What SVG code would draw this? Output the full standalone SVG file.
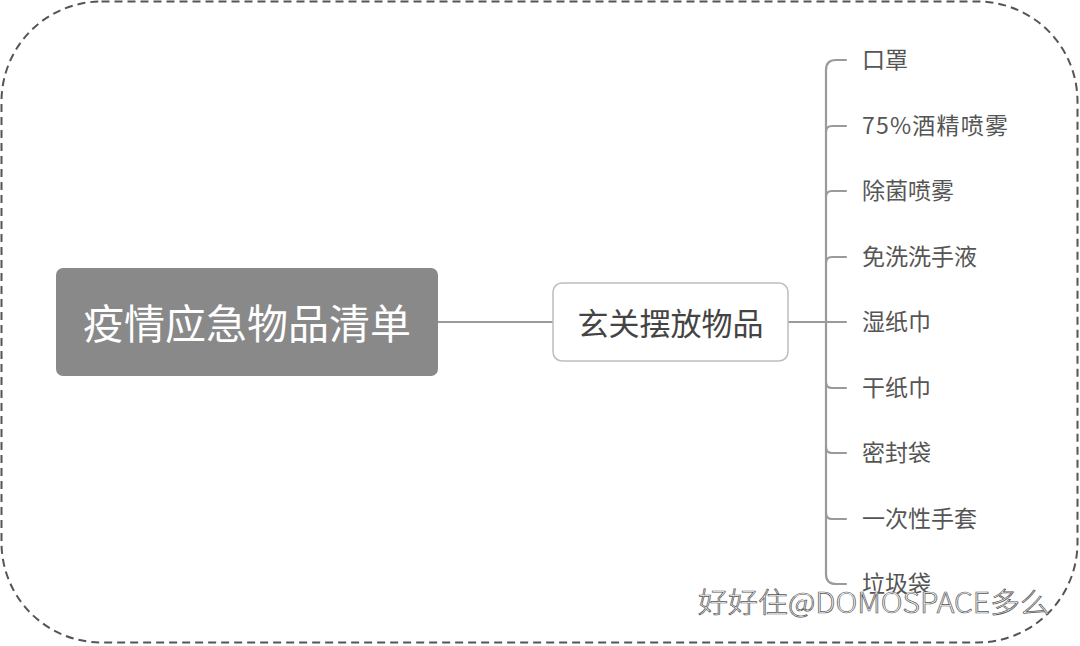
<svg xmlns="http://www.w3.org/2000/svg" width="1080" height="646" viewBox="0 0 1080 646">
<style>
.conn{fill:none;stroke:#9a9a9a;stroke-width:2.2;stroke-linecap:round}
.item{font-family:"Noto Sans CJK SC","Liberation Sans",sans-serif;font-size:23px;fill:#555}
.cjk{font-family:"Noto Sans CJK SC","Liberation Sans",sans-serif}
</style>
<rect width="1080" height="646" fill="#ffffff"/>
<rect x="1.5" y="1.5" width="1076" height="641" rx="100" ry="100" fill="none" stroke="#555" stroke-width="2" stroke-dasharray="8,5"/>
<g id="connectors">
<line class="conn" x1="438" y1="322" x2="553" y2="322"/>
<line class="conn" x1="788" y1="322" x2="846" y2="322"/>
<path class="conn" d="M826,70 L826,574"/>
<path class="conn" d="M826,70 Q826,60 836,60 L846,60"/>
<path class="conn" d="M826,132 Q826,126 832,126 L846,126"/>
<path class="conn" d="M826,197 Q826,191 832,191 L846,191"/>
<path class="conn" d="M826,263 Q826,257 832,257 L846,257"/>
<path class="conn" d="M826,382 Q826,388 832,388 L846,388"/>
<path class="conn" d="M826,447 Q826,453 832,453 L846,453"/>
<path class="conn" d="M826,513 Q826,519 832,519 L846,519"/>
<path class="conn" d="M826,574 Q826,584 836,584 L846,584"/>
</g>
<g id="root">
<rect x="56" y="268" width="382" height="108" rx="7" fill="#898989"/>
<text x="247" y="339" text-anchor="middle" class="cjk" font-size="41" fill="#ffffff">疫情应急物品清单</text>
</g>
<g id="branch">
<rect x="553" y="283" width="235" height="78" rx="9" fill="#ffffff" stroke="#bdbdbd" stroke-width="1.5"/>
<text x="670.5" y="335" text-anchor="middle" class="cjk" font-size="31" fill="#444">玄关摆放物品</text>
</g>
<g id="items">
<text class="item" x="862" y="68">口罩</text>
<text class="item" x="862" y="134" textLength="146" lengthAdjust="spacing">75%酒精喷雾</text>
<text class="item" x="862" y="199">除菌喷雾</text>
<text class="item" x="862" y="265">免洗洗手液</text>
<text class="item" x="862" y="330">湿纸巾</text>
<text class="item" x="862" y="396">干纸巾</text>
<text class="item" x="862" y="461">密封袋</text>
<text class="item" x="862" y="527">一次性手套</text>
<text class="item" x="862" y="592">垃圾袋</text>
</g>
<g id="watermark">
<text x="698" y="613" class="cjk" font-size="28" font-weight="300" fill="#ffffff" stroke="#555" stroke-width="0.7" textLength="352" lengthAdjust="spacingAndGlyphs">好好住@DOMOSPACE多么</text>
</g>
</svg>
